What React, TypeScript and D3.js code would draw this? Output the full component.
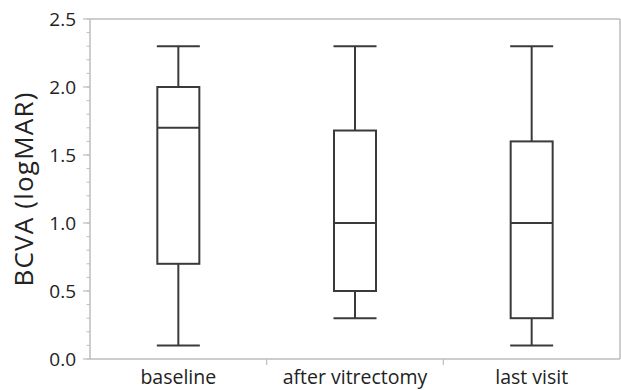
import React from "react";
import * as d3 from "d3";

const categories = ["baseline", "after vitrectomy", "last visit"];
const whiskerLow = [0.1, 0.3, 0.1];
const q1 = [0.7, 0.5, 0.3];
const median = [1.7, 1.0, 1.0];
const q3 = [2.0, 1.68, 1.6];
const whiskerHigh = [2.3, 2.3, 2.3];
const yMajorTicks = [0, 0.5, 1.0, 1.5, 2.0, 2.5];

const W = 621, H = 390;
const left = 90, right = 620, top = 19, bottom = 359;

export default function App() {
  const x = d3.scaleBand<string>().domain(categories).range([left, right]).padding(0);
  const y = d3.scaleLinear().domain([0, 2.5]).range([bottom, top]);
  const minor = d3.range(0, 26).map((i) => i / 10);
  const boxW = 42;
  const capW = 43;
  const frame = "#bdbdbd";
  const ink = "#3a3a3a";
  const font = "'Open Sans', sans-serif";

  return (
    <svg width={W} height={H} style={{ position: "absolute", left: 0, top: 0, background: "#fff" }}>
      {/* frame */}
      <line x1={left} x2={right} y1={top} y2={top} stroke={frame} strokeWidth={1.5} />
      <line x1={right} x2={right} y1={top} y2={bottom} stroke={frame} strokeWidth={1.5} />
      <line x1={left} x2={left} y1={top} y2={bottom} stroke={frame} strokeWidth={1.5} />
      <line x1={left} x2={right} y1={bottom} y2={bottom} stroke={frame} strokeWidth={1.5} />
      {/* minor ticks */}
      {minor.map((v) => (
        <line key={"m" + v} x1={left - 3.5} x2={left} y1={y(v)} y2={y(v)} stroke={frame} strokeWidth={1} />
      ))}
      {yMajorTicks.map((v) => (
        <g key={"t" + v}>
          <line x1={left - 7} x2={left} y1={y(v)} y2={y(v)} stroke={frame} strokeWidth={1.2} />
          <text x={left - 14} y={y(v)} dy="0.36em" textAnchor="end" fontFamily={font} fontSize={19} fill="#222">
            {v.toFixed(1)}
          </text>
        </g>
      ))}
      {/* category separators */}
      {categories.slice(1).map((c) => (
        <line key={"s" + c} x1={x(c)!} x2={x(c)!} y1={bottom} y2={bottom + 6} stroke={frame} strokeWidth={1.2} />
      ))}
      {categories.map((c) => (
        <text key={"l" + c} x={x(c)! + x.bandwidth() / 2} y={384} textAnchor="middle" fontFamily={font} fontSize={19.5} fill="#222">
          {c}
        </text>
      ))}
      <text transform={`translate(33,${(top + bottom) / 2}) rotate(-90)`} textAnchor="middle" fontFamily={font} fontSize={26} letterSpacing={1.2} fill="#222">
        BCVA (logMAR)
      </text>
      {/* boxes */}
      {categories.map((c, i) => {
        const cx = x(c)! + x.bandwidth() / 2;
        return (
          <g key={"b" + c} stroke={ink} strokeWidth={2} fill="none">
            <line x1={cx} x2={cx} y1={y(whiskerHigh[i])} y2={y(q3[i])} />
            <line x1={cx} x2={cx} y1={y(q1[i])} y2={y(whiskerLow[i])} />
            <line x1={cx - capW / 2} x2={cx + capW / 2} y1={y(whiskerHigh[i])} y2={y(whiskerHigh[i])} />
            <line x1={cx - capW / 2} x2={cx + capW / 2} y1={y(whiskerLow[i])} y2={y(whiskerLow[i])} />
            <rect x={cx - boxW / 2} y={y(q3[i])} width={boxW} height={y(q1[i]) - y(q3[i])} fill="#fff" />
            <line x1={cx - boxW / 2} x2={cx + boxW / 2} y1={y(median[i])} y2={y(median[i])} />
          </g>
        );
      })}
    </svg>
  );
}
